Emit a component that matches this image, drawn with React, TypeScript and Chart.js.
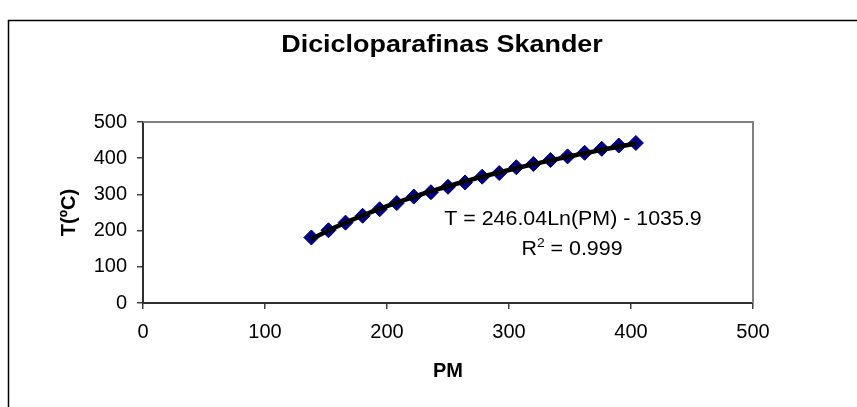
import React, { useEffect, useRef } from "react";
import { Chart, registerables } from "chart.js";

Chart.register(...registerables);

const chartTitle = "Dicicloparafinas Skander";
const xAxisTitle = "PM";
const yAxisTitle = "T(ºC)";

const pmValues = [138, 152, 166, 180, 194, 208, 222, 236, 250, 264, 278, 292, 306, 320, 334, 348, 362, 376, 390, 404];
const tempValues = [181, 201, 222, 241, 259, 276, 294, 306, 321, 333, 349, 359, 375, 384, 395, 405, 415, 426, 435, 442];

const xTickValues = [0, 100, 200, 300, 400, 500];
const yTickValues = [0, 100, 200, 300, 400, 500];

// Trend line shown in the chart: T = a·Ln(PM) + b
const trendCoefficients = [246.04, -1035.9];
const equationText = "T = 246.04Ln(PM) - 1035.9";
const r2Text = "0.999";

const FONT = "'Liberation Sans', Arial, Helvetica, sans-serif";

function trendPoints() {
  const lo = Math.min(...pmValues);
  const hi = Math.max(...pmValues);
  const n = 80;
  const pts: { x: number; y: number }[] = [];
  for (let i = 0; i <= n; i++) {
    const x = lo + ((hi - lo) * i) / n;
    pts.push({ x, y: trendCoefficients[0] * Math.log(x) + trendCoefficients[1] });
  }
  return pts;
}

const decorPlugin = {
  id: "decor",
  beforeDraw(chart: any) {
    const { ctx, width, height } = chart;
    ctx.save();
    ctx.fillStyle = "#ffffff";
    ctx.fillRect(0, 0, width, height);
    ctx.strokeStyle = "#000000";
    ctx.lineWidth = 1.5;
    ctx.strokeRect(8.5, 20.5, width + 50, height + 50);
    ctx.restore();
  },
  beforeDatasetsDraw(chart: any) {
    const { ctx, chartArea } = chart;
    ctx.save();
    ctx.strokeStyle = "#808080";
    ctx.lineWidth = 2;
    ctx.beginPath();
    ctx.moveTo(chartArea.left, chartArea.top);
    ctx.lineTo(chartArea.right, chartArea.top);
    ctx.lineTo(chartArea.right, chartArea.bottom);
    ctx.stroke();
    ctx.restore();
  },
  afterDraw(chart: any) {
    const { ctx } = chart;
    ctx.save();
    ctx.fillStyle = "#000000";
    // Title
    ctx.font = `bold 23px ${FONT}`;
    ctx.textAlign = "center";
    ctx.textBaseline = "alphabetic";
    ctx.save();
    ctx.translate(442, 52);
    ctx.scale(1.17, 1);
    ctx.fillText(chartTitle, 0, 0);
    ctx.restore();

    // Equation
    const sx = 1.07;
    ctx.font = `20px ${FONT}`;
    ctx.save();
    ctx.translate(573, 225);
    ctx.scale(sx, 1);
    ctx.fillText(equationText, 0, 0);
    ctx.restore();

    // R² line
    ctx.save();
    ctx.translate(572, 255);
    ctx.scale(sx, 1);
    ctx.textAlign = "left";
    ctx.font = `20px ${FONT}`;
    const rW = ctx.measureText("R").width;
    const restText = " = " + r2Text;
    const restW = ctx.measureText(restText).width;
    ctx.font = `13px ${FONT}`;
    const supW = ctx.measureText("2").width;
    const total = rW + supW + restW;
    let x = -total / 2;
    ctx.font = `20px ${FONT}`;
    ctx.fillText("R", x, 0);
    x += rW;
    ctx.font = `13px ${FONT}`;
    ctx.fillText("2", x, -8);
    x += supW;
    ctx.font = `20px ${FONT}`;
    ctx.fillText(restText, x, 0);
    ctx.restore();

    ctx.restore();
  },
};

export default function App() {
  const canvasRef = useRef<HTMLCanvasElement | null>(null);

  useEffect(() => {
    const canvas = canvasRef.current;
    if (!canvas) return;
    const chart = new Chart(canvas, {
      type: "scatter",
      data: {
        datasets: [
          {
            label: "Tendencia",
            data: trendPoints(),
            showLine: true,
            borderColor: "#000000",
            borderWidth: 4.5,
            pointRadius: 0,
            fill: false,
            order: 0,
          } as any,
          {
            label: "Dicicloparafinas",
            data: pmValues.map((x, i) => ({ x, y: tempValues[i] })),
            pointStyle: "rectRot",
            pointRadius: 7.5,
            backgroundColor: "#000080",
            borderColor: "#000080",
            borderWidth: 1,
            showLine: false,
            order: 1,
          } as any,
        ],
      },
      options: {
        responsive: false,
        animation: false,
        devicePixelRatio: 1,
        layout: { padding: { left: 57, top: 122, right: 104, bottom: 0 } },
        plugins: {
          legend: { display: false },
          title: { display: false },
          tooltip: { enabled: false },
        },
        scales: {
          x: {
            type: "linear",
            min: 0,
            max: 500,
            afterBuildTicks: (scale: any) => {
              scale.ticks = xTickValues.map((v) => ({ value: v }));
            },
            afterFit: (scale: any) => {
              scale.height = 104;
            },
            ticks: {
              color: "#000000",
              font: { family: FONT, size: 20 },
              padding: 11,
              maxRotation: 0,
            },
            grid: {
              drawOnChartArea: false,
              drawTicks: true,
              tickLength: 6,
              color: "#404040",
              lineWidth: 1.5,
            },
            border: { display: true, color: "#303030", width: 2 },
            title: {
              display: true,
              text: xAxisTitle,
              color: "#000000",
              font: { family: FONT, size: 20, weight: "bold" },
              padding: { top: 0, bottom: 24 },
            },
          },
          y: {
            type: "linear",
            min: 0,
            max: 500,
            afterBuildTicks: (scale: any) => {
              scale.ticks = yTickValues.map((v) => ({ value: v }));
            },
            afterFit: (scale: any) => {
              scale.width = 86;
            },
            ticks: {
              color: "#000000",
              font: { family: FONT, size: 20 },
              padding: 10,
            },
            grid: {
              drawOnChartArea: false,
              drawTicks: true,
              tickLength: 6,
              color: "#404040",
              lineWidth: 1.5,
            },
            border: { display: true, color: "#303030", width: 2 },
            title: {
              display: true,
              text: yAxisTitle,
              color: "#000000",
              font: { family: FONT, size: 20, weight: "bold" },
              padding: { top: 0, bottom: 0 },
            },
          },
        },
      } as any,
      plugins: [decorPlugin],
    });
    return () => chart.destroy();
  }, []);

  return (
    <canvas
      ref={canvasRef}
      width={857}
      height={407}
      style={{ position: "fixed", left: 0, top: 0, width: 857, height: 407, display: "block" }}
    />
  );
}
